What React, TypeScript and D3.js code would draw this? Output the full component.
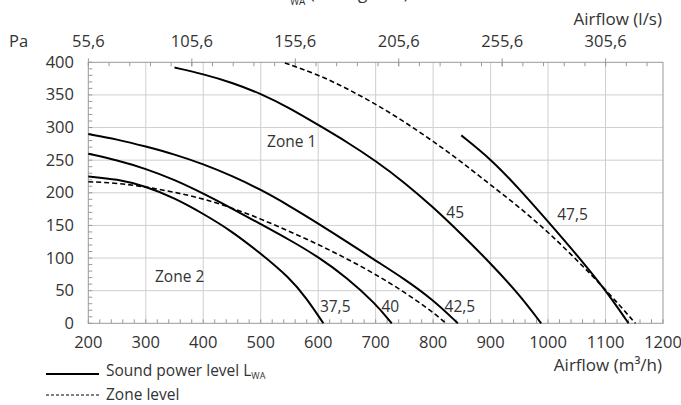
import React from "react";
import * as d3 from "d3";

// ---- data ----
const flow375 = [200, 250, 300, 350, 400, 450, 500, 550, 580, 609];
const pa375 = [225, 221, 210, 192, 168, 141, 107, 70, 38, 0];

const flow40 = [200, 250, 300, 350, 400, 450, 500, 550, 600, 650, 700, 728];
const pa40 = [260, 250, 237, 220, 199, 176, 152, 128, 102, 70, 30, 0];

const flow425 = [200, 250, 300, 350, 400, 450, 500, 550, 600, 650, 700, 750, 800, 843];
const pa425 = [290, 282, 271, 259, 244, 226, 205, 180, 153, 125, 96, 68, 36, 0];

const flow45 = [350, 400, 450, 500, 550, 600, 650, 700, 750, 800, 850, 900, 950, 988];
const pa45 = [392, 382, 369, 352, 330, 304, 278, 249, 216, 178, 136, 92, 44, 0];

const flow475 = [849, 900, 950, 1000, 1050, 1100, 1140];
const pa475 = [288, 252, 206, 156, 105, 51, 0];

const flowZoneUpper = [542, 600, 650, 700, 750, 800, 850, 900, 950, 1000, 1050, 1100, 1152];
const paZoneUpper = [399, 381, 360, 336, 309, 279, 247, 212, 178, 140, 97, 52, 0];

const flowZoneLower = [200, 250, 300, 350, 400, 450, 500, 550, 600, 650, 700, 750, 800, 822];
const paZoneLower = [217, 215, 209, 201, 191, 177, 160, 141, 121, 99, 75, 48, 17, 0];

const xTicks = [200, 300, 400, 500, 600, 700, 800, 900, 1000, 1100, 1200];
const yTicks = [0, 50, 100, 150, 200, 250, 300, 350, 400];
const lsTicks = [55.6, 105.6, 155.6, 205.6, 255.6, 305.6];
const lsTickLabels = ["55,6", "105,6", "155,6", "205,6", "255,6", "305,6"];

const curveLabels = ["37,5", "40", "42,5", "45", "47,5", "Zone 1", "Zone 2"];
const curveLabelFlow = [603, 710, 820, 823, 1016, 511, 316];
const curveLabelPa = [17, 17, 17.5, 161, 158, 270, 64];

// ---- layout ----
const W = 681;
const H = 405;
const left = 88.3;
const right = 663;
const top = 62.3;
const bottom = 323.3;
const FONT = "'Open Sans', sans-serif";
const TXT = "#333";
const FS_AXIS = 16.5;
const FS_TITLE = 17;
const FS_LABEL = 15.5;

export default function App() {
  const x = d3.scaleLinear().domain([200, 1200]).range([left, right]);
  const y = d3.scaleLinear().domain([0, 400]).range([bottom, top]);
  const xLs = (ls: number) => x(ls * 3.6);

  const line = d3
    .line<[number, number]>()
    .x((d) => x(d[0]))
    .y((d) => y(d[1]))
    .curve(d3.curveBasis);

  const zip = (a: number[], b: number[]) => a.map((v, i) => [v, b[i]] as [number, number]);

  const solid = [
    zip(flow375, pa375),
    zip(flow40, pa40),
    zip(flow425, pa425),
    zip(flow45, pa45),
    zip(flow475, pa475),
  ];
  const dashed = [zip(flowZoneUpper, paZoneUpper), zip(flowZoneLower, paZoneLower)];

  const minorX = d3.range(200, 1201, 20);
  const minorY = d3.range(0, 401, 10);
  const minorLs = d3.range(55.6, 334, 10);

  return (
    <svg
      width={W}
      height={H}
      style={{ position: "absolute", left: 0, top: 0, background: "#fff" }}
      fontFamily={FONT}
    >
      <rect x={0} y={0} width={W} height={H} fill="#fff" />
      {/* title (cut off at top as in the reference) */}
      <text x={281} y={-1} fontSize={17} fill={TXT}>
        L<tspan fontSize={10} dy={6}>WA</tspan>
        <tspan dy={-6}> (A-weighted)</tspan>
      </text>

      {/* grid */}
      {xTicks.slice(1, -1).map((v) => (
        <line key={"gx" + v} x1={x(v)} x2={x(v)} y1={top} y2={bottom} stroke="#cfcfcf" strokeWidth={1} />
      ))}
      {yTicks.slice(1, -1).map((v) => (
        <line key={"gy" + v} x1={left} x2={right} y1={y(v)} y2={y(v)} stroke="#cfcfcf" strokeWidth={1} />
      ))}

      {/* minor ticks */}
      {minorX.map((v) => (
        <line key={"mx" + v} x1={x(v)} x2={x(v)} y1={bottom} y2={bottom - 4} stroke="#999" strokeWidth={1} />
      ))}
      {minorY.map((v) => (
        <line key={"my" + v} x1={left} x2={left + 4} y1={y(v)} y2={y(v)} stroke="#999" strokeWidth={1} />
      ))}
      {minorLs.map((v) => (
        <line key={"ml" + v} x1={xLs(v)} x2={xLs(v)} y1={top} y2={top + 4} stroke="#999" strokeWidth={1} />
      ))}
      {lsTicks.map((v) => (
        <line key={"Ml" + v} x1={xLs(v)} x2={xLs(v)} y1={top - 4} y2={top + 4} stroke="#999" strokeWidth={1} />
      ))}

      {/* frame */}
      <rect x={left} y={top} width={right - left} height={bottom - top} fill="none" stroke="#999" strokeWidth={1} />

      {/* curves */}
      {solid.map((d, i) => (
        <path key={"s" + i} d={line(d) || ""} fill="none" stroke="#000" strokeWidth={2} />
      ))}
      {dashed.map((d, i) => (
        <path key={"d" + i} d={line(d) || ""} fill="none" stroke="#000" strokeWidth={1.6} strokeDasharray="5,3" />
      ))}

      {/* curve labels */}
      {curveLabels.map((t, i) => (
        <text key={"cl" + i} x={x(curveLabelFlow[i])} y={y(curveLabelPa[i])} fontSize={FS_LABEL} fill={TXT}>
          {t}
        </text>
      ))}

      {/* bottom axis labels */}
      {xTicks.map((v) => (
        <text key={"xl" + v} x={x(v)} y={348} fontSize={FS_AXIS} fill={TXT} textAnchor="middle">
          {v}
        </text>
      ))}
      {/* left axis labels */}
      {yTicks.map((v) => (
        <text key={"yl" + v} x={74} y={y(v) + 5.5} fontSize={FS_AXIS} fill={TXT} textAnchor="end">
          {v}
        </text>
      ))}
      {/* top axis labels */}
      {lsTicks.map((v, i) => (
        <text key={"tl" + v} x={xLs(v)} y={47} fontSize={FS_AXIS} fill={TXT} textAnchor="middle">
          {lsTickLabels[i]}
        </text>
      ))}
      <text x={9} y={47} fontSize={FS_AXIS} fill={TXT}>
        Pa
      </text>
      <text x={662} y={25} fontSize={FS_TITLE} fill={TXT} textAnchor="end">
        Airflow (l/s)
      </text>
      <text x={662} y={371} fontSize={FS_TITLE} fill={TXT} textAnchor="end">
        Airflow (m³/h)
      </text>

      {/* legend */}
      <line x1={46} x2={99} y1={374} y2={374} stroke="#000" strokeWidth={2} />
      <text x={106} y={376} fontSize={FS_LABEL} fill={TXT}>
        Sound power level L<tspan fontSize={9} dy={3}>WA</tspan>
      </text>
      <line x1={46} x2={99} y1={395} y2={395} stroke="#000" strokeWidth={1} strokeDasharray="3,2" />
      <text x={106} y={400} fontSize={FS_LABEL} fill={TXT}>
        Zone level
      </text>
    </svg>
  );
}
